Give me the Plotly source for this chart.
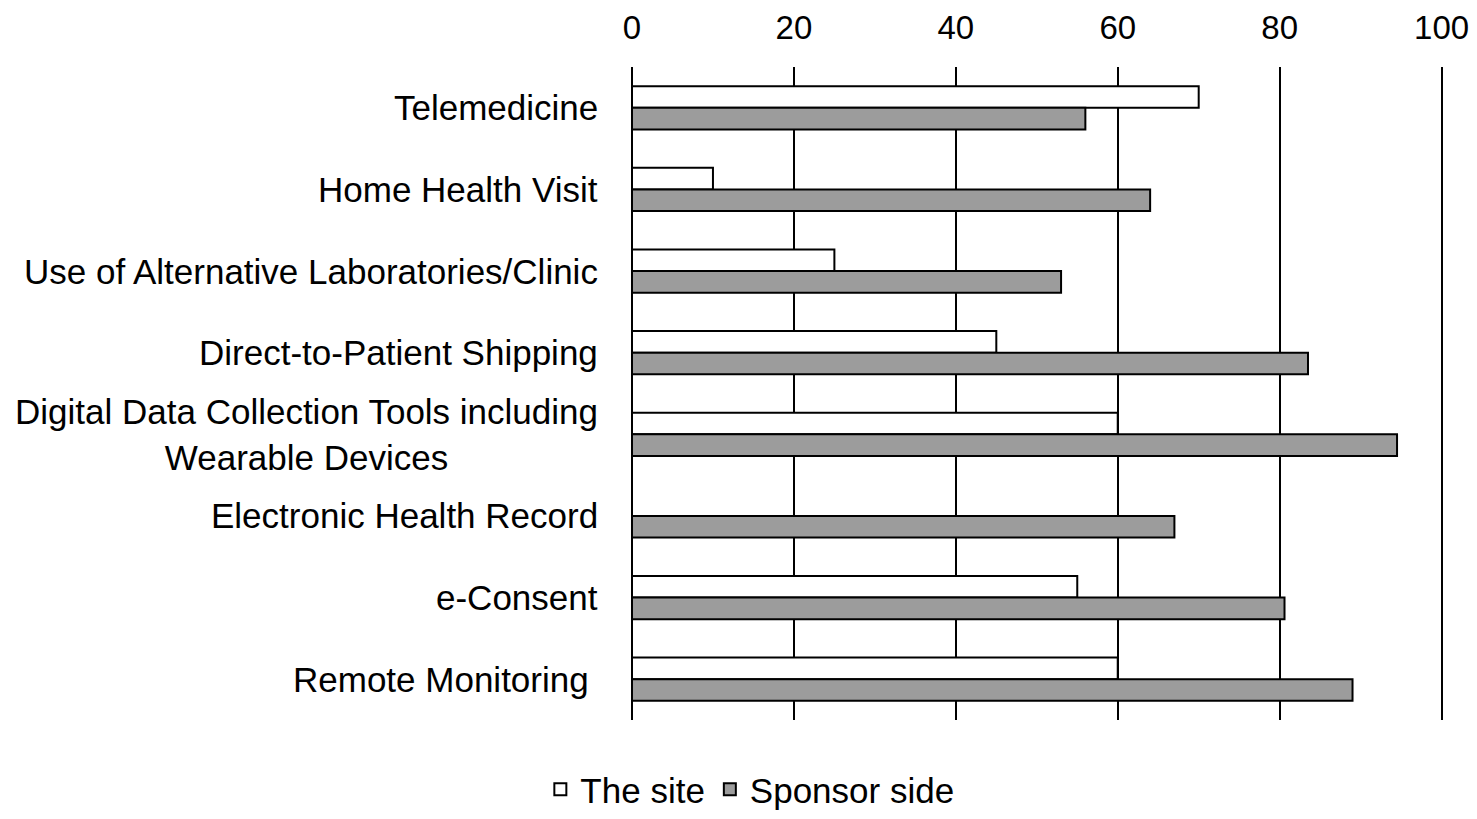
import plotly.graph_objects as go

# Data: percentage of respondents, site vs sponsor side
categories = [
    'Telemedicine',
    'Home Health Visit',
    'Use of Alternative Laboratories/Clinic',
    'Direct-to-Patient Shipping',
    'Digital Data Collection Tools including<br>Wearable Devices',
    'Electronic Health Record',
    'e-Consent',
    'Remote Monitoring ',
]
site_values = [70, 10, 25, 45, 60, 0, 55, 60]
sponsor_values = [56, 64, 53, 83.5, 94.5, 67, 80.6, 89]
x_ticks = [0, 20, 40, 60, 80, 100]

FONT = 'Liberation Sans, Arial, sans-serif'

fig = go.Figure()

fig.add_trace(go.Bar(
    y=categories,
    x=site_values,
    name='The site',
    orientation='h',
    marker=dict(color='#ffffff', line=dict(color='#000000', width=2)),
))

fig.add_trace(go.Bar(
    y=categories,
    x=sponsor_values,
    name='Sponsor side',
    orientation='h',
    marker=dict(color='#9c9c9c', line=dict(color='#000000', width=2)),
))

# category labels as annotations so the two-line label can be centred
for cat in categories:
    fig.add_annotation(
        x=-0.039, xref='paper', xanchor='right',
        y=cat, yref='y', yanchor='middle',
        text=cat, showarrow=False, align='center',
        font=dict(family=FONT, size=35, color='#000000'),
    )

fig.update_layout(
    barmode='group',
    bargap=0.47,
    bargroupgap=0,
    paper_bgcolor='white',
    plot_bgcolor='white',
    font=dict(family=FONT, color='#000000', size=35),
    xaxis=dict(
        side='top',
        range=[0, 100.3],
        tickvals=x_ticks,
        automargin=False,
        showgrid=True,
        gridcolor='#000000',
        gridwidth=2,
        zeroline=True,
        zerolinecolor='#000000',
        zerolinewidth=2,
        showline=False,
        ticks='',
        ticklabelstandoff=20,
        tickfont=dict(family=FONT, size=33, color='#000000'),
    ),
    yaxis=dict(
        autorange='reversed',
        automargin=False,
        showticklabels=False,
        showgrid=False,
        zeroline=False,
        showline=False,
        ticks='',
    ),
    legend=dict(
        orientation='h',
        x=0.505, xref='container', xanchor='center',
        y=0.0, yref='container', yanchor='bottom',
        font=dict(family=FONT, size=35, color='#000000'),
        traceorder='normal',
    ),
    width=1469,
    height=811,
    margin=dict(l=624, r=33, t=59, b=99),
)

fig.write_html('out.html')
